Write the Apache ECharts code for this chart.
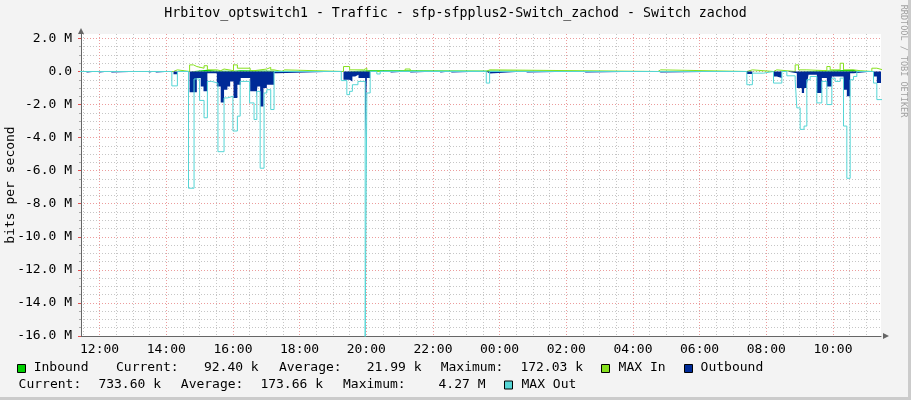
<!DOCTYPE html>
<html><head><meta charset="utf-8">
<script src="https://cdn.jsdelivr.net/npm/echarts@6/dist/echarts.min.js"></script>
<style>html,body{margin:0;padding:0;background:#F3F3F3}#c{width:911px;height:400px}</style>
</head><body><div id="c"></div>
<script>
// ---------- data (values in M bits/s; times HH:MM, rolling into next day when decreasing) ----------
const titleText = 'Hrbitov_optswitch1 - Traffic - sfp-sfpplus2-Switch_zachod - Switch zachod';
const xTickLabels = ['12:00','14:00','16:00','18:00','20:00','22:00','00:00','02:00','04:00','06:00','08:00','10:00'];
const yTickValues = [2, 0, -2, -4, -6, -8, -10, -12, -14, -16];
const yAxisName = 'bits per second';
const inStats = ['92.40 k', '21.99 k', '172.03 k'];
const outStats = ['733.60 k', '173.66 k', '4.27 M'];
const watermark = 'RRDTOOL / TOBI OETIKER';

const inbound = [
  ['11:20',0],['14:42',0.1],['15:14',0.05],['15:31',0.05],['16:01',0.08],['16:14',0.05],['17:14',0],
  ['19:19',0.08],['20:07',0],['08:52',0.1],['10:37',0.05],['10:43',0],['11:10',0.09],['11:30',0.09]
];
const maxIn = [
  ['11:20',0],['14:13',0.1],['14:20',0],['14:42',0.4],['14:49',0.3],['14:55',0.2],['15:08',0.35],['15:14',0.1],
  ['15:31',0.05],['15:38',0.15],['15:44',0.05],['16:01',0.4],['16:08',0.2],['16:31',0.05],['16:38',0.15],
  ['17:01',0.25],['17:08',0.1],['17:14',0],['17:28',0.1],['17:33',0],
  ['19:19',0.3],['19:30',0.1],['19:55',0.2],['20:01',0],['21:10',0.15],['21:19',0],
  ['23:36',0.1],['23:42',0],['04:45',0.1],['04:50',0],
  ['07:25',0.1],['07:35',0],['08:13',0.1],['08:19',0],['08:52',0.4],['08:58',0.1],['09:13',0.05],
  ['09:49',0.3],['09:55',0.1],['10:13',0.5],['10:19',0.1],['10:37',0.05],['10:49',0],['11:10',0.2],['11:19',0.1],['11:30',0.1]
];
const outbound = [
  ['11:20',0],['11:32',-0.06],['11:38',0],['11:55',-0.06],['12:00',0],['12:18',-0.06],['12:22',0],
  ['13:25',-0.06],['13:30',0],['13:38',-0.06],['13:42',0],
  ['14:13',-0.16],['14:20',0],
  ['14:42',-1.25],['14:55',-0.4],['15:02',-0.9],['15:07',-1.2],['15:14',-0.1],['15:31',-0.9],['15:38',-1.88],
  ['15:44',-1.1],['15:50',-0.9],['15:55',-0.6],['16:01',-1.6],['16:08',-0.8],['16:14',-0.4],['16:31',-1.2],
  ['16:42',-1.6],['16:44',-0.9],['16:49',-2.12],['16:55',-1.0],['17:01',-0.8],['17:14',-0.1],['17:19',0],
  ['19:19',-0.5],['19:30',-0.6],['19:35',-0.3],['19:40',-0.2],['19:46',-0.4],['19:58',-4.24],['20:01',-0.4],['20:07',0],
  ['20:40',-0.06],['20:45',0],['21:16',-0.06],['21:20',0],['22:10',-0.06],['22:14',0],['22:30',-0.06],['22:34',0],
  ['23:36',-0.12],['23:42',0],['00:45',-0.06],['00:50',0],['02:30',-0.06],['02:35',0],['04:45',-0.06],['04:50',0],
  ['07:25',-0.15],['07:35',0],['08:13',-0.3],['08:19',-0.4],['08:28',0],['08:37',-0.1],['08:55',-1.0],['09:04',-1.3],
  ['09:08',-1.0],['09:13',-0.8],['09:16',-0.2],['09:31',-1.3],['09:40',-0.4],['09:49',-0.9],['09:58',-0.3],
  ['10:19',-1.1],['10:25',-1.5],['10:31',-0.1],['10:37',0],['11:13',-0.3],['11:19',-0.7],['11:30',-0.7]
];
const maxOut = [
  ['11:20',0],['14:10',-0.87],['14:20',0],
  ['14:40',-7.06],['14:50',-0.45],['15:00',-1.75],['15:08',-2.8],['15:14',-0.6],['15:22',-0.7],['15:33',-4.85],
  ['15:44',-1.6],['15:50',-1.5],['16:00',-3.6],['16:08',-2.7],['16:13',-0.6],['16:30',-1.9],['16:38',-2.9],
  ['16:43',-1.2],['16:49',-5.85],['16:56',-1.3],['17:01',-1.1],['17:08',-2.3],['17:14',0],
  ['19:15',-0.55],['19:25',-1.4],['19:30',-1.2],['19:35',-0.8],['19:45',-0.6],['19:58',-16.3],['20:01',-1.3],['20:07',0],
  ['20:19',-0.15],['20:25',0],['23:36',-0.7],['23:42',0],
  ['07:25',-0.8],['07:35',-0.1],['07:55',0],['08:13',-0.7],['08:28',0],['08:37',-0.26],['08:52',-0.5],['08:55',-2.2],
  ['09:01',-3.5],['09:08',-3.3],['09:13',-0.5],['09:19',-0.3],['09:31',-1.9],['09:40',-0.6],['09:49',-2.0],
  ['09:58',-0.4],['10:04',-0.6],['10:13',-0.4],['10:19',-3.3],['10:25',-6.46],['10:31',-0.5],['10:37',-0.3],
  ['10:43',0],['11:13',-0.7],['11:19',-1.7],['11:30',-1.7]
];

// ---------- helpers ----------
const START = 11 * 60 + 26.5; // window start 11:26:30, x unit = minutes since start
function toSeries(arr) {
  let offset = 0, prev = -1;
  return arr.map(([t, v]) => {
    const [h, m] = t.split(':').map(Number);
    const mm = h * 60 + m;
    if (mm < prev) offset += 1440;
    prev = mm;
    return [mm + offset - START, v * 1e6];
  });
}
function tickToX(label) {
  const [h, m] = label.split(':').map(Number);
  let x = h * 60 + m - START;
  if (x < 0) x += 1440;
  return x;
}
const xMin = 0, xMax = 1440;
const majorX = xTickLabels.map(tickToX);
const minorX = [];
for (let v = 3.5; v <= xMax; v += 30) if (!majorX.some(m => Math.abs(m - v) < 1e-6)) minorX.push(v);
const majorY = yTickValues.map(v => v * 1e6);
const minorY = [];
for (let v = -16; v <= 2.001; v += 0.5) if (!yTickValues.some(m => Math.abs(m - v) < 1e-6)) minorY.push(v * 1e6);
const labelByX = {};
majorX.forEach((x, i) => labelByX[x.toFixed(1)] = xTickLabels[i]);

const FONT = 'DejaVu Sans Mono';
const yMin = -16e6, yMax = 2.2684e6;

const chart = echarts.init(document.getElementById('c'), null, {renderer: 'canvas'});
const legendY1 = 368, legendY2 = 384.5;
function swatch(x, y, color) {
  return {type: 'rect', shape: {x: x + 0.5, y: y + 0.5, width: 8, height: 8}, style: {fill: color, stroke: '#000', lineWidth: 1}, z: 10};
}
function txt(x, y, text, align, size) {
  return {type: 'text', x: x, y: y, style: {text: text, font: (size || 13) + 'px "' + FONT + '"', fill: '#000', textAlign: align || 'left', textVerticalAlign: 'middle', align: align || 'left', verticalAlign: 'middle'}, z: 10};
}
const nameLabel = txt(11, 185, yAxisName, 'center');
nameLabel.rotation = Math.PI / 2;
const graphics = [
  {type: 'rect', shape: {x: 908, y: 0, width: 3, height: 400}, style: {fill: '#cbcbcb'}, z: 1},
  {type: 'rect', shape: {x: 0, y: 397, width: 911, height: 3}, style: {fill: '#cbcbcb'}, z: 1},
  txt(455.5, 14, titleText, 'center', 13.25),
  nameLabel,
  {type: 'text', x: 903, y: 61, rotation: -Math.PI / 2, style: {text: watermark, font: '8.5px "' + FONT + '"', fill: '#a0a0a0', textAlign: 'center', textVerticalAlign: 'middle', align: 'center', verticalAlign: 'middle'}, z: 10},
  swatch(17, 364, '#00CF00'), txt(33.7, legendY1, 'Inbound'),
  txt(116, legendY1, 'Current:'), txt(258.7, legendY1, inStats[0], 'right'),
  txt(279, legendY1, 'Average:'), txt(421.5, legendY1, inStats[1], 'right'),
  txt(440.7, legendY1, 'Maximum:'), txt(583, legendY1, inStats[2], 'right'),
  swatch(601, 364, '#86E01E'), txt(618.6, legendY1, 'MAX In'),
  swatch(684, 364, '#002A97'), txt(700.6, legendY1, 'Outbound'),
  txt(18.6, legendY2, 'Current:'), txt(161, legendY2, outStats[0], 'right'),
  txt(180.8, legendY2, 'Average:'), txt(323, legendY2, outStats[1], 'right'),
  txt(343, legendY2, 'Maximum:'), txt(485.5, legendY2, outStats[2], 'right'),
  swatch(504, 380.5, '#55D5D5'), txt(521.5, legendY2, 'MAX Out')
];

function lineSeries(name, data, color, z, area) {
  return {
    name, type: 'line', step: 'end', data: toSeries(data), xAxisIndex: 1, yAxisIndex: 1,
    symbol: 'none', z: z, silent: true, clip: true,
    lineStyle: {color: color, width: area ? 0 : 1},
    areaStyle: area ? {color: color, opacity: 1} : undefined,
    itemStyle: {color: color}
  };
}

chart.setOption({
  animation: false,
  backgroundColor: '#F3F3F3',
  grid: {left: 81, top: 34, width: 800, height: 302, show: true, backgroundColor: '#ffffff', borderWidth: 0, containLabel: false, outerBoundsMode: 'none'},
  xAxis: [
    {type: 'value', min: xMin, max: xMax, position: 'bottom',
      axisLine: {show: false}, axisTick: {show: false, customValues: minorX}, axisLabel: {show: false},
      splitLine: {show: true, lineStyle: {color: '#c6c6c6', type: [1, 2], width: 1}}},
    {type: 'value', min: xMin, max: xMax, position: 'bottom',
      axisLine: {show: true, onZero: false, lineStyle: {color: '#666666', width: 1}, symbol: ['none', 'triangle'], symbolSize: [6, 6], symbolOffset: [0, 5]},
      axisTick: {show: false, customValues: majorX},
      axisLabel: {customValues: majorX, formatter: v => labelByX[v.toFixed(1)] || '', fontFamily: FONT, fontSize: 13, color: '#000', margin: 7},
      splitLine: {show: true, lineStyle: {color: '#ec9c9c', type: [1, 2], width: 1}}}
  ],
  yAxis: [
    {type: 'value', min: yMin, max: yMax, position: 'left',
      axisLine: {show: false}, axisTick: {show: true, customValues: minorY, length: 2, lineStyle: {color: '#aaaaaa'}},
      axisLabel: {show: false},
      splitLine: {show: true, lineStyle: {color: '#c6c6c6', type: [1, 2], width: 1}}},
    {type: 'value', min: yMin, max: yMax, position: 'left',
      axisLine: {show: true, onZero: false, lineStyle: {color: '#666666', width: 1}, symbol: ['none', 'triangle'], symbolSize: [6, 6], symbolOffset: [0, 3]},
      axisTick: {show: true, customValues: majorY, length: 3, lineStyle: {color: '#e05050'}},
      axisLabel: {customValues: majorY, formatter: v => v === 0 ? '0.0' : (v / 1e6).toFixed(1) + ' M', fontFamily: FONT, fontSize: 13, color: '#000', margin: 9},
      splitLine: {show: true, lineStyle: {color: '#ec9c9c', type: [1, 2], width: 1}}}
  ],
  series: [
    lineSeries('Inbound', inbound, '#00CF00', 3, true),
    lineSeries('MAX In', maxIn, '#86E01E', 4, false),
    lineSeries('Outbound', outbound, '#002A97', 5, true),
    lineSeries('MAX Out', maxOut, '#55D5D5', 6, false)
  ],
  graphic: graphics
});
</script></body></html>
